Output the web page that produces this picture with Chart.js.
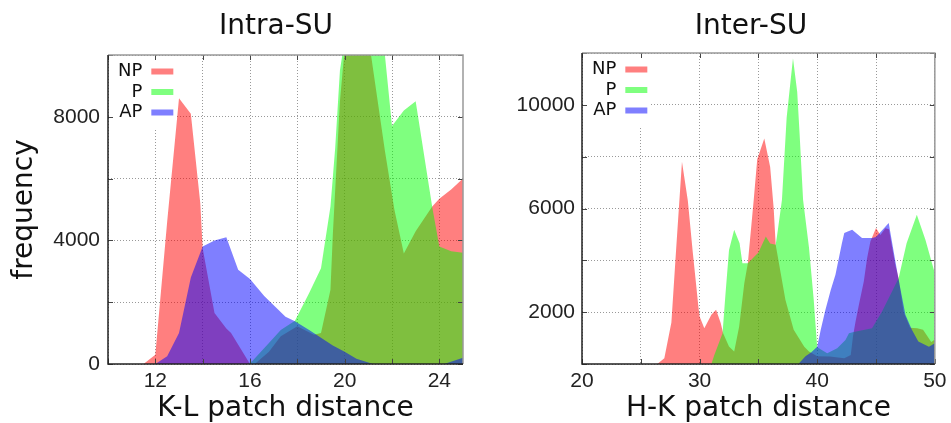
<!DOCTYPE html>
<html>
<head>
<meta charset="utf-8">
<script src="https://cdn.jsdelivr.net/npm/chart.js@4.4.0/dist/chart.umd.min.js"></script>
<style>
html,body{margin:0;padding:0;background:#fff;overflow:hidden}
#wrap{position:relative;width:951px;height:423px;overflow:hidden;font-family:"DejaVu Sans",sans-serif}
canvas{position:absolute;top:0}
.title{position:absolute;top:11px;width:240px;text-align:center;font-size:28px;line-height:28px;color:#111;font-family:"DejaVu Sans",sans-serif}
</style>
</head>
<body>
<div id="wrap">
<canvas id="c1" width="480" height="423" style="left:0;width:480px;height:423px"></canvas>
<canvas id="c2" width="471" height="423" style="left:480px;width:471px;height:423px"></canvas>
<div class="title" style="left:156px">Intra-SU</div>
<div class="title" style="left:631px">Inter-SU</div>
</div>
<script>
// ---------- data: Intra-SU (K-L patch distance) ----------
const seriesLabels = ['NP', 'P', 'AP'];

const intraX_NP = [11.5, 12.0, 12.5, 13.0, 13.5, 13.9, 14.0, 14.5, 15.0, 15.2, 16.0, 16.2, 16.8, 17.3, 18.0, 18.7, 19.0, 19.4, 19.5, 19.8, 20.0, 20.5, 21.0, 21.7, 22.1, 22.5, 23.0, 23.7, 24.0, 24.5, 25.0];
const intraY_NP = [0, 300, 4600, 8600, 8100, 5200, 3750, 1650, 1150, 1000, 0, 0, 400, 900, 1220, 950, 1000, 2400, 4200, 8500, 10200, 11500, 10600, 6900, 5000, 3580, 4300, 5100, 5350, 5650, 6000];

const intraX_P = [15.9, 16.1, 16.8, 17.3, 17.9, 18.5, 19.0, 19.4, 19.6, 19.8, 20.0, 20.5, 21.0, 21.5, 21.7, 22.0, 22.5, 23.0, 23.7, 24.0, 24.5, 25.0];
const intraY_P = [0, 100, 680, 1100, 1400, 2300, 3100, 5100, 7000, 9500, 10500, 11500, 11500, 10800, 10000, 7700, 8200, 8500, 5080, 3800, 3650, 3600];

const intraX_AP = [12.0, 12.5, 13.0, 13.5, 14.0, 14.5, 15.0, 15.5, 16.0, 16.6, 17.5, 17.9, 18.5, 19.0, 19.5, 20.0, 20.5, 21.2, 24.2, 25.0];
const intraY_AP = [0, 250, 1000, 2800, 3800, 4000, 4100, 3050, 2750, 2200, 1530, 1380, 1100, 850, 600, 400, 170, 0, 0, 200];

// ---------- data: Inter-SU (H-K patch distance) ----------
const interX_NP = [26.4, 27.0, 27.6, 28.0, 28.5, 29.0, 29.4, 29.9, 30.0, 30.4, 31.0, 31.4, 31.8, 32.0, 32.5, 32.94, 33.36, 33.8, 34.1, 34.6, 34.9, 35.5, 36.0, 36.3, 36.47, 37.3, 38.0, 38.9, 39.3, 40.0, 41.1, 42.3, 42.85, 43.05, 43.26, 43.54, 43.96, 44.24, 44.52, 45.0, 45.37, 45.8, 46.1, 46.64, 46.92, 47.35, 47.9, 48.5, 49.0, 49.7, 50.0];
const interY_NP = [0, 220, 1600, 4400, 7800, 6300, 4400, 2200, 1830, 1380, 1900, 2090, 1575, 1190, 680, 480, 1440, 3120, 3890, 6330, 7900, 8700, 7600, 6000, 4600, 2470, 1320, 670, 480, 300, 290, 220, 350, 1100, 1640, 2280, 3180, 4080, 4730, 5250, 4980, 5240, 5200, 3830, 3310, 2000, 1400, 1380, 1320, 850, 950];

const interX_P = [31.0, 31.25, 31.95, 32.2, 32.5, 32.94, 33.4, 33.64, 34.1, 35.0, 35.63, 36.0, 36.47, 36.6, 37.0, 37.4, 37.94, 38.3, 38.5, 38.8, 39.3, 39.7, 39.86, 40.0, 40.85, 41.7, 42.4, 42.7, 43.1, 44.66, 45.5, 46.36, 46.92, 47.6, 48.47, 49.2, 50.0];
const interY_P = [0, 350, 1190, 2700, 4400, 5180, 4660, 3890, 3890, 4300, 4920, 4650, 4600, 5000, 6330, 9500, 11800, 10500, 8900, 6330, 4500, 2500, 1500, 650, 417, 610, 930, 1190, 1230, 1380, 2020, 2800, 3310, 4660, 5760, 4790, 3500];

const interX_AP = [38.4, 39.0, 39.5, 40.0, 40.3, 40.7, 41.15, 41.55, 42.1, 42.3, 42.6, 42.97, 43.81, 44.66, 45.0, 45.5, 46.08, 46.5, 46.9, 47.5, 48.05, 48.6, 49.5, 50.0];
const interY_AP = [0, 300, 450, 670, 1320, 2090, 2860, 3440, 4660, 5050, 5110, 5180, 4860, 4860, 4900, 5150, 5440, 4340, 3310, 1900, 1320, 870, 670, 800];

// ---------- styles ----------
const FONT = "'DejaVu Sans', sans-serif";
const TICK_FONT = "'Liberation Sans', Arial, sans-serif";
const fillColors = ['rgba(255,0,0,0.5)', 'rgba(0,255,0,0.5)', 'rgba(0,0,255,0.5)'];
const GRID = 'rgba(0,0,0,0.4)';
Chart.defaults.font.family = FONT;

function pts(xs, ys) { return xs.map((x, i) => ({ x: x, y: ys[i] })); }

function makeDatasets(groups) {
  return groups.map((g, i) => ({
    label: seriesLabels[i],
    data: pts(g[0], g[1]),
    backgroundColor: fillColors[i],
    borderColor: fillColors[i],
    borderWidth: 0,
    pointRadius: 0,
    pointHoverRadius: 0,
    tension: 0,
    fill: 'origin',
    order: 2 - i
  }));
}

const framePlugin = {
  id: 'frame',
  afterLayout(chart) {
    // keep the key inside the plot area, at its top-left corner
    const lg = chart.legend, a = chart.chartArea;
    lg.top = a.top;
    lg.bottom = a.bottom;
    lg.height = a.bottom - a.top;
  },
  afterDatasetsDraw(chart) {
    const ctx = chart.ctx, a = chart.chartArea;
    const xs = chart.scales.x, ys = chart.scales.y;
    const lg = chart.legend;
    ctx.save();
    // key background (hides grid behind the key)
    ctx.fillStyle = '#ffffff';
    ctx.fillRect(a.left + 1, a.top + 1, 66, 72);
    // inward tick marks
    ctx.strokeStyle = '#444';
    ctx.lineWidth = 1;
    ctx.beginPath();
    ys.ticks.forEach(t => {
      const p = Math.round(ys.getPixelForValue(t.value)) + 0.5;
      ctx.moveTo(a.left, p); ctx.lineTo(a.left + 5, p);
      ctx.moveTo(a.right, p); ctx.lineTo(a.right - 5, p);
    });
    xs.ticks.forEach(t => {
      const p = Math.round(xs.getPixelForValue(t.value)) + 0.5;
      ctx.moveTo(p, a.bottom); ctx.lineTo(p, a.bottom - 5);
      ctx.moveTo(p, a.top); ctx.lineTo(p, a.top + 5);
    });
    ctx.stroke();
    // frame
    ctx.lineWidth = 1.5;
    ctx.strokeStyle = '#999';
    ctx.beginPath();
    ctx.moveTo(a.left, a.top); ctx.lineTo(a.right, a.top); ctx.lineTo(a.right, a.bottom);
    ctx.stroke();
    ctx.strokeStyle = '#222';
    ctx.beginPath();
    ctx.moveTo(a.left, a.top); ctx.lineTo(a.left, a.bottom); ctx.lineTo(a.right, a.bottom);
    ctx.stroke();
    ctx.restore();
    lg.draw();
  }
};

function legendOpts() {
  return {
    position: 'chartArea',
    align: 'start',
    rtl: true,
    labels: {
      boxWidth: 22, boxHeight: 6, padding: 2.5, color: '#111',
      font: { family: FONT, size: 18 },
      sort: (a, b) => a.datasetIndex - b.datasetIndex
    },
    title: { display: true, text: ' ', font: { size: 1, lineHeight: 1 }, padding: { top: 4, bottom: 0 } }
  };
}

function makeChart(id, groups, cfg) {
  return new Chart(document.getElementById(id), {
    type: 'line',
    data: { datasets: makeDatasets(groups) },
    options: {
      responsive: false,
      animation: false,
      layout: { padding: { top: cfg.top, right: cfg.right, left: 0, bottom: 0 } },
      plugins: { legend: legendOpts(), tooltip: { enabled: false } },
      scales: {
        x: {
          type: 'linear', min: cfg.xMin, max: cfg.xMax,
          afterFit: s => { s.height = 59; },
          ticks: { stepSize: cfg.xStep, includeBounds: false, padding: 4.5, autoSkip: false, maxRotation: 0, color: '#222',
                   font: { family: TICK_FONT, size: 21 }, callback: cfg.xLabel },
          grid: { color: GRID, lineWidth: 1, drawTicks: false },
          border: { display: false, dash: [1, 2] },
          title: { display: true, text: cfg.xTitle, color: '#111',
                   font: { family: FONT, size: 28, lineHeight: 1 }, padding: { top: 0, bottom: 0 } }
        },
        y: {
          type: 'linear', min: 0, max: cfg.yMax,
          afterFit: s => { s.width = cfg.yWidth; },
          ticks: { stepSize: 2000, padding: cfg.yPad, autoSkip: false, color: '#222',
                   font: { family: TICK_FONT, size: 21 }, callback: cfg.yLabel },
          grid: { color: GRID, lineWidth: 1, drawTicks: false },
          border: { display: false, dash: [1, 2] },
          title: { display: !!cfg.yTitle, text: cfg.yTitle || '', color: '#111',
                   font: { family: FONT, size: 28, lineHeight: 1 }, padding: { top: 11, bottom: 0 } }
        }
      }
    },
    plugins: [framePlugin]
  });
}

makeChart('c1',
  [[intraX_NP, intraY_NP], [intraX_P, intraY_P], [intraX_AP, intraY_AP]],
  { top: 55, right: 17, yWidth: 108, yPad: 8, xMin: 10, xMax: 25, xStep: 2, yMax: 10000,
    xLabel: v => (v % 4 === 0 && v > 10) ? String(v) : '',
    yLabel: v => (v % 4000 === 0) ? String(v) : '',
    xTitle: 'K-L patch distance', yTitle: 'frequency' });

makeChart('c2',
  [[interX_NP, interY_NP], [interX_P, interY_P], [interX_AP, interY_AP]],
  { top: 53, right: 14, yWidth: 102, yPad: 7, xMin: 20, xMax: 50, xStep: 5, yMax: 12000,
    xLabel: v => (v % 10 === 0) ? String(v) : '',
    yLabel: v => ((v - 2000) % 4000 === 0) ? String(v) : '',
    xTitle: 'H-K patch distance', yTitle: '' });
</script>
</body>
</html>
